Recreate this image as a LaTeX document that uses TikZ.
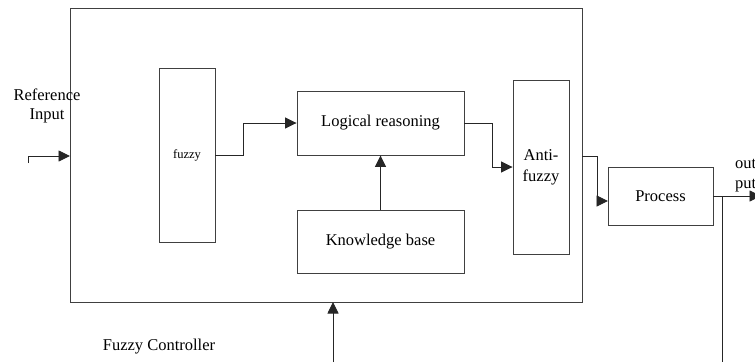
\documentclass[tikz,border=0pt]{standalone}
\usepackage{fontspec}
\setmainfont{Liberation Serif}
\usetikzlibrary{arrows.meta}
\begin{document}
\begin{tikzpicture}[x=1pt,y=-1pt,
  box/.style={draw=black!75,line width=0.9pt,rectangle,inner sep=0pt,
    font=\fontsize{16.5}{20}\selectfont,align=center},
  lbl/.style={inner sep=0pt,font=\fontsize{16.5}{19}\selectfont,align=center},
  wire/.style={draw=black!85,line width=0.9pt},
  arr/.style={wire,-{Triangle[length=11.5pt,width=11pt]}}]
\useasboundingbox (0,0) rectangle (755,362);
\clip (0,0) rectangle (755,362);
% controller frame
\node[box,minimum width=512pt,minimum height=294pt] (ctrl) at (326,155) {};
% inner blocks
\node[box,minimum width=56pt,minimum height=174pt,font=\fontsize{12.5}{15}\selectfont] (fz) at (187,155) {fuzzy};
\node[box,minimum width=167pt,minimum height=64pt] (logic) at (380.5,123) {Logical reasoning};
\node[box,minimum width=167pt,minimum height=63pt] (kb) at (380.5,241.5) {Knowledge base};
\node[box,minimum width=56pt,minimum height=174pt,font=\fontsize{16.5}{21}\selectfont] (anti) at (541,167) {Anti-\\fuzzy};
\node[box,minimum width=105pt,minimum height=58pt] (proc) at (660.5,196) {Process};
% labels
\node[lbl] (reflbl) at (47,106) {Reference\\Input};
\node[lbl] (ctrllbl) at (159,347) {Fuzzy Controller};
\node[lbl,anchor=west,align=left,font=\fontsize{16.5}{20}\selectfont] (outlbl) at (735,176) {out\\put};
% connection points
\coordinate (refstart) at (28,163);
\coordinate (refin) at (70,156);
\coordinate (ctrlout) at (582,156);
\coordinate (procin) at (608,201);
\coordinate (outend) at (761,196);
\coordinate (tap) at (722,196);
\coordinate (fbend) at (722,362);
\coordinate (dstart) at (333,362);
\coordinate (din) at (333,302);
% connectors
\draw[arr] (refstart) |- (refin);
\draw[arr] (fz.east) -- ++(28,0) |- (logic.west);
\draw[arr] (logic.east) -- ++(28,0) |- (anti.west);
\draw[arr] (kb.north) -- (logic.south);
\draw[arr] (ctrlout) -- ++(15,0) |- (procin);
\draw[arr] (proc.east) -- (outend);
\draw[wire] (tap) -- (fbend);
\draw[arr] (dstart) -- (din);
\end{tikzpicture}
\end{document}
